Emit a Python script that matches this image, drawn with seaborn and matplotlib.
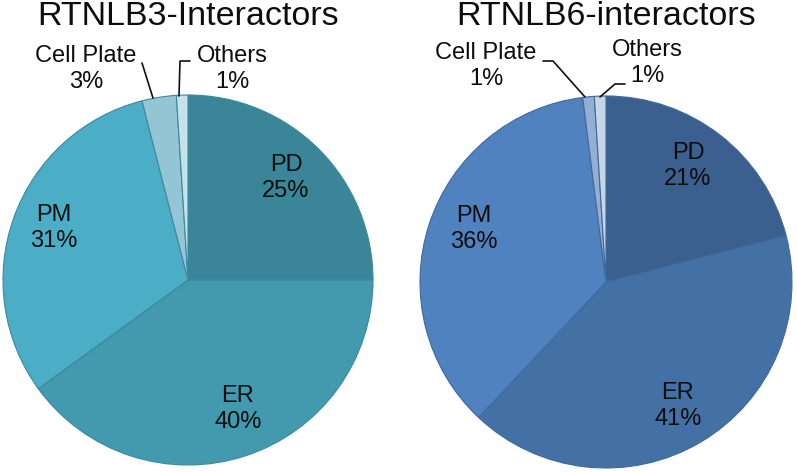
import matplotlib
matplotlib.use("Agg")
import matplotlib.pyplot as plt
import seaborn as sns

sns.set_style("white")
plt.rcParams['font.family'] = ['Liberation Sans', 'DejaVu Sans']

# Data
categories = ["PD", "ER", "PM", "Cell Plate", "Others"]
rtnlb3 = [25, 40, 31, 3, 1]
rtnlb6 = [21, 41, 36, 1, 1]
titles = ["RTNLB3-Interactors", "RTNLB6-interactors"]

colors3 = ["#3A8598", "#4399AE", "#4BADC6", "#93C5D5", "#C6E1EA"]
colors6 = ["#3B5F8F", "#4371A6", "#4F82BE", "#95AED3", "#C7D5E9"]

H = 473  # figure height in px, used to flip y so coords read like the picture


def py(y):
    return H - y


fig = plt.figure(figsize=(7.97, 4.73), dpi=100)
ax = fig.add_axes([0, 0, 1, 1])

pies = [
    dict(values=rtnlb3, colors=colors3, edge="#3A8A9E", center=(188, 280), r=185,
         title=titles[0], title_x=188,
         labels={"PD": (286, 178), "ER": (238, 409), "PM": (54, 228),
                 "Cell Plate": (86, 69), "Others": (232, 69)},
         leaders=[[(142, 63), (153, 98)], [(190, 61), (180, 61), (179, 96)]]),
    dict(values=rtnlb6, colors=colors6, edge="#3F6A9C", center=(606, 282), r=186,
         title=titles[1], title_x=606,
         labels={"PD": (688, 166), "ER": (678, 406), "PM": (474, 229),
                 "Cell Plate": (486, 66), "Others": (647, 63)},
         leaders=[[(543, 61), (553, 61), (585, 97)], [(625, 84), (615, 84), (600, 97)]]),
]

for p in pies:
    cx, cy = p["center"]
    ax.pie(p["values"], colors=p["colors"], startangle=90, counterclock=False,
           center=(cx, py(cy)), radius=p["r"],
           wedgeprops=dict(edgecolor=p["edge"], linewidth=0.8))
    for cat, val in zip(categories, p["values"]):
        x, y = p["labels"][cat]
        ax.text(x, py(y), f"{cat}\n{val}%", ha="center", va="center",
                fontsize=17, color="#0d0d0d", linespacing=1.25)
    for pts in p["leaders"]:
        ax.plot([q[0] for q in pts], [py(q[1]) for q in pts], color="#111111", lw=1.2)
    ax.text(p["title_x"], py(16), p["title"], ha="center", va="center",
            fontsize=24.5, color="#0d0d0d")

ax.set_xlim(0, 797)
ax.set_ylim(0, H)
ax.set_aspect("equal")
ax.axis("off")

fig.savefig("out.png", dpi=100)
